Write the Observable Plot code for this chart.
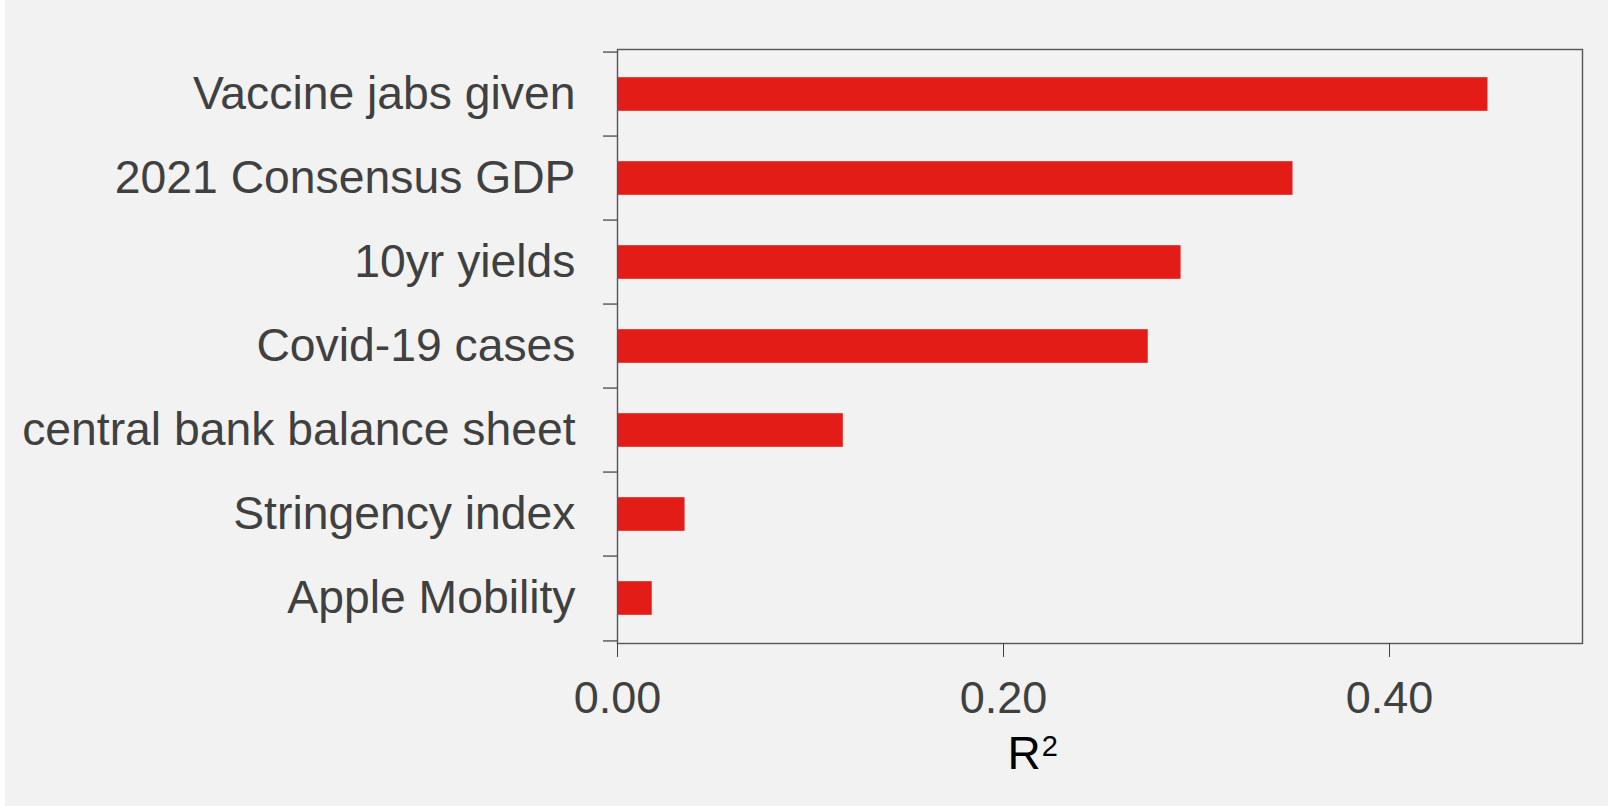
<!DOCTYPE html>
<html>
<head>
<meta charset="utf-8">
<script src="https://cdn.jsdelivr.net/npm/d3@7"></script>
<script src="https://cdn.jsdelivr.net/npm/@observablehq/plot@0.6"></script>
<style>
html, body { margin: 0; padding: 0; background: #ffffff; }
#chart { margin-left: 5px; width: 1603px; height: 806px; background: #f2f2f2; overflow: hidden; }
</style>
</head>
<body>
<div id="chart"></div>
<script>
const categories = [
  "Vaccine jabs given",
  "2021 Consensus GDP",
  "10yr yields",
  "Covid-19 cases",
  "central bank balance sheet",
  "Stringency index",
  "Apple Mobility"
];
const values = [0.451, 0.350, 0.292, 0.275, 0.117, 0.035, 0.018];
const xTicks = [0, 0.2, 0.4];
const xDomain = [0, 0.5];
const xLabelBase = "R";
const xLabelSup = "2";

const data = categories.map((c, i) => ({category: c, value: values[i]}));

const width = 1603, height = 806;
const marginLeft = 612, marginRight = 26, marginTop = 49, marginBottom = 163;
const step = (height - marginTop - marginBottom) / categories.length;
const barHeight = 34.5;
const inset = (step - barHeight) / 2;
const textColor = "#404040";
const lineColor = "#555555";

const chart = Plot.plot({
  width, height, marginLeft, marginRight, marginTop, marginBottom,
  style: {background: "#f2f2f2", fontFamily: "'Liberation Sans', Arial, sans-serif", fontSize: "46px", overflow: "visible"},
  x: {domain: xDomain, label: null},
  y: {domain: categories, padding: 0, label: null},
  marks: [
    Plot.barX(data, {x: "value", y: "category", fill: "#e41c18", insetTop: inset, insetBottom: inset}),
    Plot.frame({stroke: lineColor, strokeWidth: 1.4}),
    // category labels
    Plot.axisY({tickSize: 0, tickPadding: 42, fontSize: 46.3, color: textColor, label: null}),
    // boundary ticks between bands
    Plot.axisY({tickSize: 14, tickFormat: () => "", dy: -step / 2, color: lineColor, strokeWidth: 1.4, label: null}),
    Plot.axisY({ticks: [categories[categories.length - 1]], tickSize: 14, tickFormat: () => "", dy: step / 2, color: lineColor, strokeWidth: 1.4, label: null}),
    // x axis
    Plot.axisX({ticks: xTicks, tickFormat: d3.format(".2f"), tickSize: 14, tickPadding: 24, fontSize: 45, color: textColor, label: null}),
    Plot.text([xLabelBase], {frameAnchor: "bottom", lineAnchor: "bottom", textAnchor: "start", dx: -92.5, dy: 125, fontSize: 46, fill: "#000000", className: "xlabel"})
  ]
});
// add the superscript as a tspan to the axis title
const lbl = chart.querySelector("g.xlabel text, .xlabel text");
if (lbl) {
  const t = document.createElementNS("http://www.w3.org/2000/svg", "tspan");
  t.setAttribute("font-size", "29");
  t.setAttribute("dy", "-13");
  t.setAttribute("dx", "1");
  t.textContent = xLabelSup;
  lbl.appendChild(t);
}
document.getElementById("chart").appendChild(chart);
</script>
</body>
</html>
